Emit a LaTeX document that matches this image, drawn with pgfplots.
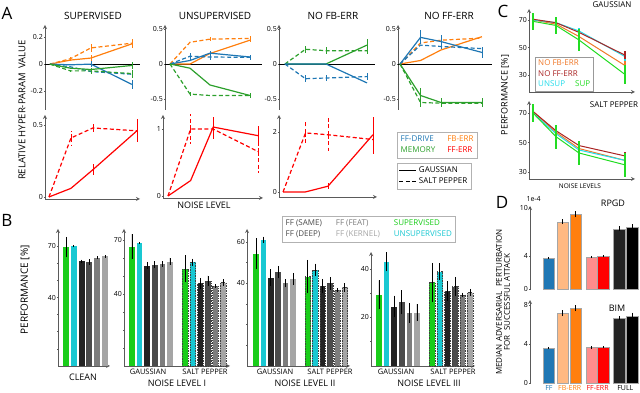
\documentclass[border=0pt]{standalone}
\usepackage{fontspec}
\setmainfont{Open Sans}
\usepackage{pgfplots}
\pgfplotsset{compat=1.18}

\definecolor{cdrive}{RGB}{31,119,180}
\definecolor{cfb}{RGB}{255,127,14}
\definecolor{cmem}{RGB}{44,160,44}
\definecolor{cff}{RGB}{255,0,0}
\definecolor{csup}{RGB}{25,205,25}
\definecolor{cuns}{RGB}{25,200,210}
\definecolor{gA}{RGB}{35,35,35}
\definecolor{gB}{RGB}{75,75,75}
\definecolor{gC}{RGB}{125,125,125}
\definecolor{gD}{RGB}{165,165,165}
\definecolor{cdred}{RGB}{170,35,35}
\definecolor{corg}{RGB}{240,120,40}
\definecolor{ccya}{RGB}{35,220,235}
\definecolor{cgrn}{RGB}{35,220,35}
\definecolor{clor}{RGB}{255,185,130}
\definecolor{cpink}{RGB}{255,140,140}
\definecolor{spine}{RGB}{90,90,90}

\newcommand{\fs}[1]{\fontsize{#1}{#1}\selectfont}

\pgfplotsset{
  every axis/.append style={scale only axis, clip=false, anchor=south west,
    font=\fs{7}, tick align=outside, major tick length=2pt,
    axis line style={-, draw=spine, line width=0.8pt},
    every tick/.style={draw=spine, line width=0.6pt},
    yticklabel style={inner sep=1pt},
    /pgf/number format/assume math mode=true},
  eb/.style={error bars/y dir=both, error bars/y explicit, error bars/error mark=none},
  sl/.style={#1, line width=1.2pt, eb},
  dl/.style={#1, line width=1.2pt, dash pattern=on 4pt off 2.5pt, eb},
  topA/.style={axis y line=left, axis x line=none, xtick=\empty},
  botA/.style={axis y line=left, axis x line=bottom, xtick=\empty},
  bb/.style={ybar, bar shift=0pt, bar width=0.75, draw=none, fill=#1, eb,
    error bars/error bar style={black, solid, line width=0.9pt}},
  sb/.style={bb=#1, draw=black!75, dash pattern=on 1.5pt off 1pt, line width=0.5pt},
  db/.style={ybar, bar shift=0pt, bar width=0.85, draw=black!35, line width=0.4pt, fill=#1, eb,
    error bars/error bar style={black, solid, line width=1.1pt}},
  cl/.style={#1, line width=1pt, eb, error bars/error bar style={line width=1.4pt}},
  pB/.style={axis y line=left, axis x line=bottom, xtick=\empty, ymin=0},
}
\newcommand{\gb}[4]{\addplot[bb=#1] coordinates {(#2,#3) +- (0,#4)};}
\newcommand{\sbr}[4]{\addplot[sb=#1] coordinates {(#2,#3) +- (0,#4)};}
\newcommand{\dbr}[4]{\addplot[db=#1] coordinates {(#2,#3) +- (0,#4)};}

\begin{document}
\begin{tikzpicture}
\useasboundingbox (0,0) rectangle (640pt,393pt);

% ---------------- panel A, top row ----------------
\begin{axis}[topA, at={(45pt,283pt)}, width=95pt, height=85pt,
  xmin=-0.24, xmax=4.4, ymin=-0.34, ymax=0.29,
  ytick={-0.2,0,0.2}, yticklabels={-0.2,0,0.2}]
\addplot[black, line width=0.9pt] coordinates {(-0.24,0) (4.4,0)};
\addplot[sl=cfb] coordinates {(0,0) +- (0,0) (1,0.03) +- (0,0) (2,0.045) +- (0,0.02) (4,0.15) +- (0,0.03)};
\addplot[dl=cfb] coordinates {(0,0) +- (0,0) (1,0.04) +- (0,0.015) (2,0.12) +- (0,0.04) (4,0.155) +- (0,0.03)};
\addplot[sl=cdrive] coordinates {(0,0) +- (0,0) (1,-0.005) +- (0,0) (2,0) +- (0,0.02) (4,-0.15) +- (0,0.035)};
\addplot[dl=cdrive] coordinates {(0,0) +- (0,0) (1,-0.02) +- (0,0) (2,-0.055) +- (0,0.02) (4,-0.075) +- (0,0)};
\addplot[sl=cmem] coordinates {(0,0) +- (0,0) (1,-0.03) +- (0,0) (2,-0.04) +- (0,0.01) (4,-0.01) +- (0,0.025)};
\addplot[dl=cmem] coordinates {(0,0) +- (0,0) (1,-0.05) +- (0,0.01) (2,-0.05) +- (0,0.02) (4,-0.07) +- (0,0.03)};
\end{axis}

\begin{axis}[topA, at={(165pt,283pt)}, width=97pt, height=85pt,
  xmin=-0.25, xmax=4.6, ymin=-0.657, ymax=0.557,
  ytick={-0.5,0,0.5}, yticklabels={-0.5,0,0.5}]
\addplot[black, line width=0.9pt] coordinates {(-0.25,0) (4.6,0)};
\addplot[sl=cfb] coordinates {(0,0) +- (0,0) (1,0) +- (0,0) (2,0.15) +- (0,0) (4,0.34) +- (0,0.03)};
\addplot[dl=cfb] coordinates {(0,0) +- (0,0) (1,0.31) +- (0,0) (2,0.355) +- (0,0.03) (4,0.365) +- (0,0.03)};
\addplot[sl=cdrive] coordinates {(0,0) +- (0,0) (1,0.05) +- (0,0) (2,0.155) +- (0,0.03) (4,0.1) +- (0,0.02)};
\addplot[dl=cdrive] coordinates {(0,0) +- (0,0) (1,0.11) +- (0,0.05) (2,0.1) +- (0,0.05) (4,0.095) +- (0,0.04)};
\addplot[sl=cmem] coordinates {(0,0) +- (0,0) (1,-0.06) +- (0,0) (2,-0.3) +- (0,0) (4,-0.45) +- (0,0.02)};
\addplot[dl=cmem] coordinates {(0,0) +- (0,0) (1,-0.43) +- (0,0.03) (2,-0.45) +- (0,0) (4,-0.45) +- (0,0.03)};
\end{axis}

\begin{axis}[topA, at={(279pt,283pt)}, width=96pt, height=85pt,
  xmin=-0.29, xmax=4.39, ymin=-0.657, ymax=0.557,
  ytick={-0.5,0,0.5}, yticklabels={-0.5,0,0.5}]
\addplot[black, line width=0.9pt] coordinates {(-0.29,0) (4.39,0)};
\addplot[sl=cmem] coordinates {(0,0) +- (0,0) (1,0) +- (0,0) (2,0) +- (0,0.02) (4,0.27) +- (0,0.08)};
\addplot[dl=cmem] coordinates {(0,0) +- (0,0) (1,0.21) +- (0,0.05) (2,0.19) +- (0,0.05) (4,0.19) +- (0,0.05)};
\addplot[sl=cdrive] coordinates {(0,0) +- (0,0) (1,0) +- (0,0) (2,0) +- (0,0) (4,-0.27) +- (0,0)};
\addplot[dl=cdrive] coordinates {(0,0) +- (0,0) (1,-0.21) +- (0,0.05) (2,-0.2) +- (0,0.04) (4,-0.18) +- (0,0.05)};
\end{axis}

\begin{axis}[topA, at={(398pt,283pt)}, width=94pt, height=85pt,
  xmin=-0.1, xmax=4.49, ymin=-0.657, ymax=0.557,
  ytick={-0.5,0,0.5}, yticklabels={-0.5,0,0.5}]
\addplot[black, line width=0.9pt] coordinates {(-0.1,0) (4.49,0)};
\addplot[sl=cfb] coordinates {(0,0) +- (0,0) (1,0.05) +- (0,0) (2,0.2) +- (0,0) (4,0.39) +- (0,0)};
\addplot[dl=cfb] coordinates {(0,0) +- (0,0) (1,0.3) +- (0,0) (2,0.34) +- (0,0) (4,0.37) +- (0,0)};
\addplot[sl=cdrive] coordinates {(0,0) +- (0,0) (1,0.38) +- (0,0.1) (2,0.32) +- (0,0.1) (4,0.165) +- (0,0.08)};
\addplot[dl=cdrive] coordinates {(0,0) +- (0,0) (1,0.27) +- (0,0) (2,0.25) +- (0,0) (4,0.22) +- (0,0)};
\addplot[sl=cmem] coordinates {(0,0) +- (0,0) (1,-0.45) +- (0,0.1) (2,-0.55) +- (0,0.06) (4,-0.55) +- (0,0.06)};
\addplot[dl=cmem] coordinates {(0,0) +- (0,0) (1,-0.55) +- (0,0.06) (2,-0.56) +- (0,0.05) (4,-0.56) +- (0,0.05)};
\end{axis}

% ---------------- panel A, bottom row ----------------
\begin{axis}[botA, at={(45pt,194pt)}, width=95pt, height=84pt,
  xmin=-0.18, xmax=4.14, ymin=-0.014, ymax=0.57,
  ytick={0,0.5}, yticklabels={0,0.5}]
\addplot[sl=cff] coordinates {(0,0) +- (0,0) (1,0.06) +- (0,0) (2,0.19) +- (0,0.04) (4,0.46) +- (0,0.08)};
\addplot[dl=cff] coordinates {(0,0) +- (0,0) (1,0.41) +- (0,0.05) (2,0.48) +- (0,0.04) (4,0.46) +- (0,0.08)};
\end{axis}

\begin{axis}[botA, at={(163pt,195pt)}, width=100pt, height=83pt,
  xmin=-0.22, xmax=4.2, ymin=-0.03, ymax=1.21,
  ytick={0,1}, yticklabels={0,1}]
\addplot[sl=cff] coordinates {(0,0) +- (0,0) (1,0.23) +- (0,0) (2,1.03) +- (0,0.15) (4,0.9) +- (0,0.15)};
\addplot[dl=cff] coordinates {(0,0) +- (0,0) (1,1.0) +- (0,0.22) (2,1.0) +- (0,0.15) (4,0.66) +- (0,0.32)};
\end{axis}

\begin{axis}[botA, at={(279pt,196pt)}, width=98pt, height=82pt,
  xmin=-0.18, xmax=4.18, ymin=-0.17, ymax=2.57,
  ytick={0,2}, yticklabels={0,2}]
\addplot[sl=cff] coordinates {(0,0) +- (0,0) (1,0) +- (0,0) (2,0.19) +- (0,0.1) (4,1.91) +- (0,0.6)};
\addplot[dl=cff] coordinates {(0,0) +- (0,0) (1,1.97) +- (0,0.4) (2,1.91) +- (0,0.55) (4,1.75) +- (0,0.5)};
\end{axis}

% legends of panel A
\begin{axis}[at={(397pt,236pt)}, width=89pt, height=25pt, hide axis,
  xmin=0, xmax=1, ymin=0, ymax=1, legend columns=2,
  legend style={at={(0,1)}, anchor=north west, draw=black!30, font=\fs{8},
    inner sep=1.5pt, /tikz/every even column/.append style={column sep=8pt}},
  legend cell align=left]
\addlegendimage{empty legend}\addlegendentry{\textcolor{cdrive}{FF-DRIVE}}
\addlegendimage{empty legend}\addlegendentry{\textcolor{cfb}{FB-ERR}}
\addlegendimage{empty legend}\addlegendentry{\textcolor{cmem}{MEMORY}}
\addlegendimage{empty legend}\addlegendentry{\textcolor{cff}{FF-ERR}}
\end{axis}
\begin{axis}[at={(397pt,206pt)}, width=89pt, height=24pt, hide axis,
  xmin=0, xmax=1, ymin=0, ymax=1,
  legend style={at={(0,1)}, anchor=north west, draw=black!30, font=\fs{8},
    inner sep=1.5pt}, legend cell align=left]
\addlegendimage{black, line width=1.2pt}\addlegendentry{GAUSSIAN}
\addlegendimage{black, line width=1.2pt, dash pattern=on 4pt off 2.5pt}\addlegendentry{SALT PEPPER}
\end{axis}

% ---------------- panel B ----------------
\begin{axis}[pB, at={(58pt,27pt)}, width=52pt, height=137pt,
  xmin=-1.03, xmax=5.64, ymax=80,
  ytick={10,20,...,70}, yticklabels={,,,40,,,70}]
\gb{csup}{0}{69.4}{6} \gb{cuns}{1}{70}{0.5} \gb{gA}{2}{61.1}{1}
\gb{gB}{3}{60.7}{1.5} \gb{gC}{4}{63.2}{0.8} \gb{gD}{5}{64}{0.8}
\end{axis}

\begin{axis}[pB, at={(124pt,27pt)}, width=106pt, height=137pt,
  xmin=-1.05, xmax=12.9, ymax=76.1,
  ytick={10,20,...,70}, yticklabels={,,,40,,,70}]
\gb{csup}{0}{66.2}{7} \gb{cuns}{1}{68.5}{0.5} \gb{gA}{2}{55.8}{2}
\gb{gB}{3}{56.3}{2} \gb{gC}{4}{56.7}{1.5} \gb{gD}{5}{58}{2}
\sbr{csup}{7}{53.9}{7.5} \sbr{cuns}{8}{57.7}{2} \sbr{gA}{9}{45.9}{3}
\sbr{gB}{10}{47.2}{3} \sbr{gC}{11}{44.4}{1} \sbr{gD}{12}{46.3}{2}
\end{axis}

\begin{axis}[pB, at={(247pt,27pt)}, width=103pt, height=137pt,
  xmin=-1.22, xmax=12.7, ymax=66.3,
  ytick={10,20,...,60}, yticklabels={,,,40,,60}]
\gb{csup}{0}{54.3}{7.5} \gb{cuns}{1}{61.1}{1.5} \gb{gA}{2}{42.8}{4}
\gb{gB}{3}{45.4}{3} \gb{gC}{4}{40}{2} \gb{gD}{5}{42.1}{3}
\sbr{csup}{7}{43.3}{8} \sbr{cuns}{8}{46.5}{3} \sbr{gA}{9}{38.7}{3.5}
\sbr{gB}{10}{40}{3} \sbr{gC}{11}{36.7}{1} \sbr{gD}{12}{38}{2}
\end{axis}

\begin{axis}[pB, at={(371pt,27pt)}, width=104pt, height=114pt,
  xmin=-1.05, xmax=12.63, ymax=47,
  ytick={10,20,30,40}, yticklabels={,20,,40}]
\gb{csup}{0}{29.3}{6} \gb{cuns}{1}{43}{4} \gb{gA}{2}{24.5}{4.5}
\gb{gB}{3}{26.3}{5} \gb{gC}{4}{21.8}{4} \gb{gD}{5}{22}{3.5}
\sbr{csup}{7}{34.5}{8} \sbr{cuns}{8}{38.9}{3.5} \sbr{gA}{9}{31}{4}
\sbr{gB}{10}{32.7}{4} \sbr{gC}{11}{29.3}{1} \sbr{gD}{12}{30.3}{1.5}
\end{axis}

\begin{axis}[at={(282pt,152pt)}, width=186pt, height=25pt, hide axis,
  xmin=0, xmax=1, ymin=0, ymax=1, legend columns=3,
  legend style={at={(0,1)}, anchor=north west, draw=black!30, font=\fs{8},
    inner sep=1.5pt, /tikz/every even column/.append style={column sep=10pt}},
  legend cell align=left]
\addlegendimage{empty legend}\addlegendentry{\textcolor{gB}{FF (SAME)}}
\addlegendimage{empty legend}\addlegendentry{\textcolor{gC}{FF (FEAT)}}
\addlegendimage{empty legend}\addlegendentry{\textcolor{csup}{SUPERVISED}}
\addlegendimage{empty legend}\addlegendentry{\textcolor{gB}{FF (DEEP)}}
\addlegendimage{empty legend}\addlegendentry{\textcolor{gD}{FF (KERNEL)}}
\addlegendimage{empty legend}\addlegendentry{\textcolor{cuns}{UNSUPERVISED}}
\end{axis}

% ---------------- panel C ----------------
\begin{axis}[axis y line=left, axis x line=bottom, xtick=\empty,
  at={(529pt,301pt)}, width=106pt, height=83pt,
  xmin=-0.17, xmax=4.43, ymin=17.9, ymax=77.9, ytick={30,50,70},
  legend style={at={(0.057,0.012)}, anchor=south west, draw=black!40,
    font=\fs{8}, inner sep=1pt, row sep=-1pt}, legend cell align=left]
\addplot[cl=corg, forget plot] coordinates {(0,70) +- (0,1) (1,67) +- (0,1) (2,58) +- (0,3) (4,37) +- (0,5)};
\addplot[cl=ccya, forget plot] coordinates {(0,70) +- (0,0.5) (1,68) +- (0,1) (2,62) +- (0,2) (4,43.5) +- (0,3)};
\addplot[cl=cdred, forget plot] coordinates {(0,70.5) +- (0,1) (1,68) +- (0,1) (2,61) +- (0,2) (4,44.5) +- (0,3)};
\addplot[cl=cgrn, forget plot] coordinates {(0,69) +- (0,6) (1,66) +- (0,6) (2,55.5) +- (0,8) (4,30.5) +- (0,7)};
\addlegendimage{empty legend}\addlegendentry{\textcolor{corg}{NO FB-ERR}}
\addlegendimage{empty legend}\addlegendentry{\textcolor{cdred}{NO FF-ERR}}
\addlegendimage{empty legend}\addlegendentry{\textcolor{ccya}{UNSUP}\hspace{10pt}\textcolor{cgrn}{SUP}}
\end{axis}

\begin{axis}[axis y line=left, axis x line=bottom, xtick=\empty,
  at={(529pt,214pt)}, width=106pt, height=78pt,
  xmin=-0.17, xmax=4.43, ymin=25.5, ymax=78, ytick={30,50,70}]
\addplot[cl=corg] coordinates {(0,71) +- (0,1) (1,57) +- (0,2) (2,46) +- (0,3) (4,38) +- (0,4)};
\addplot[cl=ccya] coordinates {(0,70) +- (0,1) (1,56) +- (0,2) (2,45) +- (0,3) (4,38) +- (0,3)};
\addplot[cl=cdred] coordinates {(0,71) +- (0,1) (1,58) +- (0,2) (2,48) +- (0,3) (4,41) +- (0,3)};
\addplot[cl=cgrn] coordinates {(0,70) +- (0,6) (1,54) +- (0,8) (2,43) +- (0,8) (4,35) +- (0,8)};
\end{axis}

% ---------------- panel D ----------------
\begin{axis}[axis y line=left, axis x line=none, xtick=\empty,
  at={(530pt,104pt)}, width=110pt, height=83pt,
  xmin=-1.39, xmax=6.7, ymin=0, ymax=10.2, ytick={0,4,10}]
\dbr{cdrive}{0}{3.83}{0.1} \dbr{clor}{1.02}{8.27}{0.3} \dbr{cfb}{1.97}{9.18}{0.35}
\dbr{cpink}{3.14}{3.95}{0.12} \dbr{cff}{4.0}{4.03}{0.12}
\dbr{gA}{5.18}{7.4}{0.3} \dbr{black}{6.13}{7.65}{0.3}
\end{axis}

\begin{axis}[axis y line=left, axis x line=bottom, x axis line style={draw=none},
  at={(530pt,10pt)}, width=110pt, height=83pt,
  xmin=-1.39, xmax=6.7, ymin=0, ymax=8.5, ytick={0,4,8},
  xtick={0,1.53,3.58,5.62}, major x tick style={draw=none},
  xticklabels={\textcolor{cdrive}{FF},\textcolor{cfb}{FB-ERR},\textcolor{cff}{FF-ERR},FULL},
  xticklabel style={font=\fs{7}, inner sep=1pt}]
\dbr{cdrive}{0}{3.57}{0.1} \dbr{clor}{1.02}{7.14}{0.3} \dbr{cfb}{1.97}{7.65}{0.3}
\dbr{cpink}{3.14}{3.64}{0.12} \dbr{cff}{4.0}{3.67}{0.1}
\dbr{gA}{5.18}{6.63}{0.2} \dbr{black}{6.13}{6.8}{0.4}
\end{axis}

% ---------------- text ----------------
\node[font=\fs{17}] at (7pt,380pt) {A};
\node[font=\fs{17}] at (7pt,173pt) {B};
\node[font=\fs{17}] at (503pt,382pt) {C};
\node[font=\fs{17}] at (502pt,191pt) {D};

\node[font=\fs{10}] at (93pt,377pt) {SUPERVISED};
\node[font=\fs{10}] at (215pt,377pt) {UNSUPERVISED};
\node[font=\fs{10}] at (333pt,377pt) {NO FB-ERR};
\node[font=\fs{10}] at (449pt,377pt) {NO FF-ERR};
\node[font=\fs{9}] at (204pt,188pt) {NOISE LEVEL};
\node[font=\fs{9.5}, rotate=90] at (22pt,283pt) {RELATIVE HYPER-PARAM\ \ VALUE};

\node[font=\fs{10}, rotate=90] at (25pt,103pt) {PERFORMANCE [\%]};
\node[font=\fs{9}] at (83pt,16pt) {CLEAN};
\node[font=\fs{7.5}] at (148pt,21pt) {GAUSSIAN};
\node[font=\fs{7.5}] at (205pt,21pt) {SALT PEPPER};
\node[font=\fs{9}] at (177pt,10pt) {NOISE LEVEL I};
\node[font=\fs{7.5}] at (275pt,21pt) {GAUSSIAN};
\node[font=\fs{7.5}] at (330pt,21pt) {SALT PEPPER};
\node[font=\fs{9}] at (305pt,10pt) {NOISE LEVEL II};
\node[font=\fs{7.5}] at (396pt,21pt) {GAUSSIAN};
\node[font=\fs{7.5}] at (453pt,21pt) {SALT PEPPER};
\node[font=\fs{9}] at (429pt,10pt) {NOISE LEVEL III};

\node[font=\fs{8}] at (612pt,388pt) {GAUSSIAN};
\node[font=\fs{8}] at (614pt,288pt) {SALT PEPPER};
\node[font=\fs{6.5}] at (580pt,207pt) {NOISE LEVELS};
\node[font=\fs{9}, rotate=90] at (505pt,298pt) {PERFORMANCE [\%]};

\node[font=\fs{7}, anchor=west] at (523pt,194pt) {1e-4};
\node[font=\fs{9}] at (613pt,190pt) {RPGD};
\node[font=\fs{9}] at (617pt,85pt) {BIM};
\node[font=\fs{8}, rotate=90, align=center] at (503pt,91pt)
  {MEDIAN ADVERSARIAL\ \ PERTURBATION\\FOR\ \ SUCCESSFUL ATTACK};
\end{tikzpicture}
\end{document}
